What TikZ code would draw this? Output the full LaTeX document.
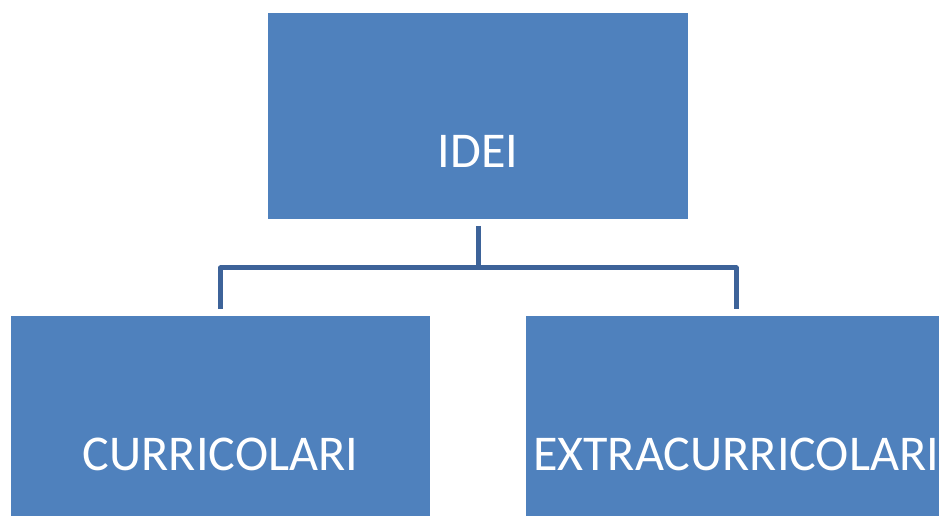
\documentclass[tikz,border=0pt]{standalone}
\usepackage{fontspec}
\setmainfont{Carlito}
\usepackage{xcolor}
\usetikzlibrary{positioning,calc}
\definecolor{boxblue}{HTML}{4F81BD}
\definecolor{lineblue}{HTML}{3D6399}

\begin{document}
\begin{tikzpicture}[x=0.02cm, y=-0.02cm,
    box/.style={fill=boxblue, draw=none, minimum width=8.4cm, minimum height=4.12cm,
        inner sep=0pt, outer sep=0.14cm, text=white, text height=2.05cm, text depth=0cm,
        font=\fontsize{28.5}{34}\selectfont},
    conn/.style={draw=lineblue, line width=0.1cm, line join=round}]
    % Canvas
    \useasboundingbox (0,0) rectangle (939,515);

    % Boxes
    \node[box] (idei) at (478,116) {IDEI};
    \node[box] (curr) at (220.5,419) {CURRICOLARI};
    \node[box] (extra) at (736,419) {EXTRACURRICOLARI};

    % Connectors
    \draw[conn] (idei.south) -- ++(0,42) coordinate (mid);
    \draw[conn] (curr.north) |- (mid) -| (extra.north);

\end{tikzpicture}
\end{document}
